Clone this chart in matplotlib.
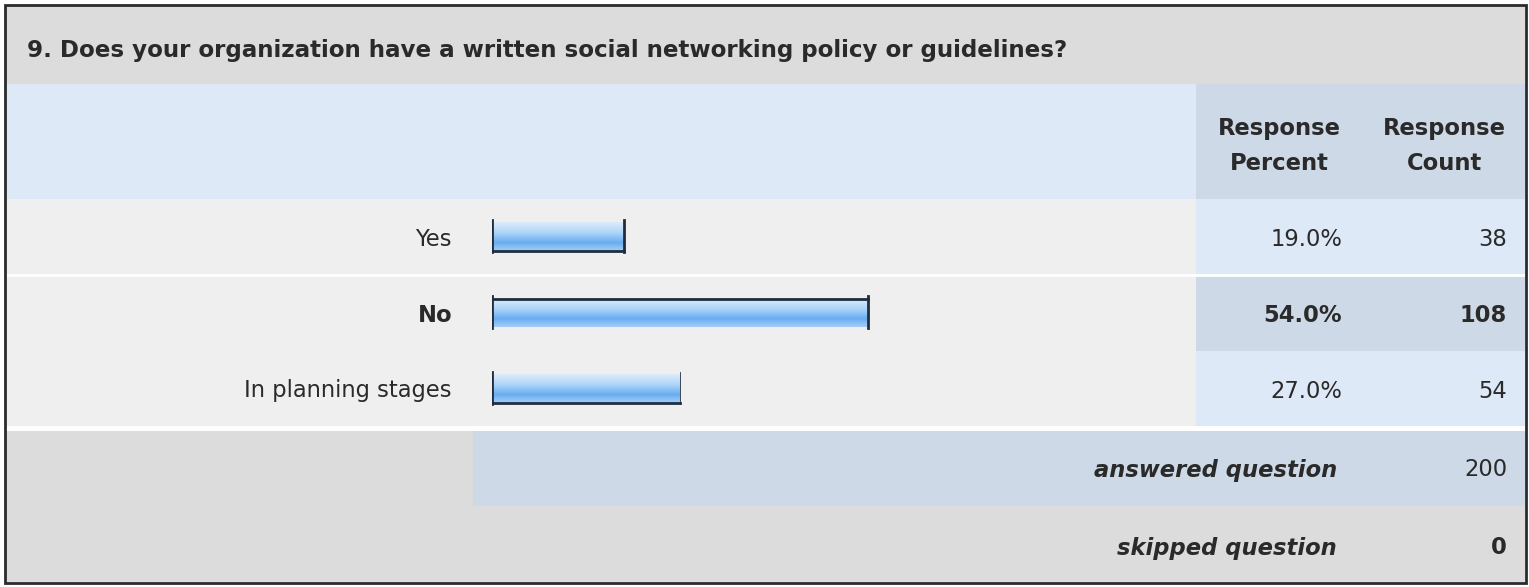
import numpy as np
import matplotlib.pyplot as plt
from matplotlib.patches import Rectangle
from matplotlib.colors import LinearSegmentedColormap

# data
question = "9. Does your organization have a written social networking policy or guidelines?"
answers = ["Yes", "No", "In planning stages"]
percents = [19.0, 54.0, 27.0]
counts = [38, 108, 54]
answered = 200
skipped = 0

W, H = 1529, 587
fig = plt.figure(figsize=(W / 100, H / 100), dpi=100)
fig.patch.set_facecolor("white")

# layout axes in pixel units
lay = fig.add_axes([0, 0, 1, 1])
lay.set_xlim(0, W)
lay.set_ylim(H, 0)
lay.axis("off")

gray = "#dcdcdc"
light = "#efefef"
blue1 = "#dde9f6"
blue2 = "#cdd9e6"
txt = "#2a2a2a"
fs = 16.3

def box(x0, y0, x1, y1, c):
    lay.add_patch(Rectangle((x0, y0), x1 - x0, y1 - y0, facecolor=c, edgecolor="none", zorder=1))

# title row
box(6, 6, 1525, 84, gray)
# header row
box(6, 84, 1196, 199, blue1)
box(1196, 84, 1525, 199, blue2)
# answer rows
row_top = 199
row_h = 76
for i in range(len(answers)):
    y0 = row_top + i * row_h
    box(6, y0, 1196, y0 + row_h, light)
    box(1196, y0, 1525, y0 + row_h, blue2 if i == 1 else blue1)
    if i != 1:
        lay.plot([6, 1525], [y0 + row_h, y0 + row_h], color="white", lw=2, zorder=2)
# summary rows
box(6, 431, 1525, 582, gray)
box(473, 431, 1525, 506, blue2)

# outer border
lay.add_patch(Rectangle((5, 5), 1521, 578, facecolor="none", edgecolor="#2b2b2b", lw=2, zorder=5))

lay.text(27, 50, question, fontsize=16.6, fontweight="bold", color=txt, va="center", ha="left", zorder=3)
lay.text(1279, 128, "Response", fontsize=fs, fontweight="bold", color=txt, ha="center", va="center", zorder=3)
lay.text(1279, 163, "Percent", fontsize=fs, fontweight="bold", color=txt, ha="center", va="center", zorder=3)
lay.text(1444, 128, "Response", fontsize=fs, fontweight="bold", color=txt, ha="center", va="center", zorder=3)
lay.text(1444, 163, "Count", fontsize=fs, fontweight="bold", color=txt, ha="center", va="center", zorder=3)

for i, (a, p, c) in enumerate(zip(answers, percents, counts)):
    yc = row_top + i * row_h + row_h / 2 + 2
    w = "bold" if i == 1 else "normal"
    lay.text(452, yc, a, fontsize=fs, fontweight=w, color=txt, ha="right", va="center", zorder=3)
    lay.text(1342, yc, "%.1f%%" % p, fontsize=fs, fontweight=w, color=txt, ha="right", va="center", zorder=3)
    lay.text(1507, yc, str(c), fontsize=fs, fontweight=w, color=txt, ha="right", va="center", zorder=3)

lay.text(1337, 470, "answered question", fontsize=fs, fontweight="bold", style="italic", color=txt, ha="right", va="center", zorder=3)
lay.text(1507, 470, str(answered), fontsize=fs, color=txt, ha="right", va="center", zorder=3)
lay.text(1337, 548, "skipped question", fontsize=fs, fontweight="bold", style="italic", color=txt, ha="right", va="center", zorder=3)
lay.text(1507, 548, str(skipped), fontsize=fs, fontweight="bold", color=txt, ha="right", va="center", zorder=3)

# bar axes: 0..100 percent over x 492..1188 px
ax = fig.add_axes([492 / W, (H - (row_top + 3 * row_h)) / H, 696 / W, 3 * row_h / H])
ax.set_xlim(0, 100)
ax.set_ylim(2.5, -0.5)
ax.axis("off")
ax.patch.set_alpha(0)

grad = LinearSegmentedColormap.from_list("g", [
    (0.0, "#dcecfc"), (0.35, "#b0d6f9"), (0.6, "#7fbaf4"),
    (0.72, "#6aacf0"), (0.86, "#86bff4"), (1.0, "#a2cdf7")])
g = np.linspace(0, 1, 64).reshape(-1, 1)

bh = 0.38
ypos = np.arange(len(answers))
bars = ax.barh(ypos, percents, height=bh, color="none", edgecolor="none")
for i, b in enumerate(bars):
    x0, y0 = b.get_x(), b.get_y()
    x1, y1 = x0 + b.get_width(), y0 + b.get_height()
    ax.imshow(g, cmap=grad, aspect="auto", extent=(x0, x1, y1, y0), zorder=2, interpolation="bilinear")
    ax.plot([x0, x0], [y0 - 0.03, y1 + 0.01], color="#1f2d3d", lw=2, zorder=3)
    ax.plot([x1, x1], [y0 - 0.03, y1 + 0.01], color="#1f2d3d", lw=2 if i < 2 else 0.6, zorder=3)
    yl = y0 if i == 1 else y1
    ax.plot([x0, x1], [yl, yl], color="#1f2d3d", lw=2, zorder=3)
ax.set_xlim(0, 100)
ax.set_ylim(2.5, -0.5)

fig.savefig("out.png", dpi=100)
